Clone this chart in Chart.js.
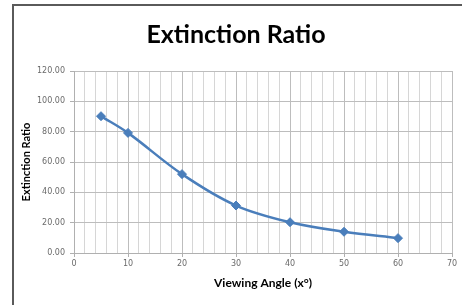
<!DOCTYPE html>
<html>
<head>
<meta charset="utf-8">
<script src="https://cdn.jsdelivr.net/npm/chart.js@4/dist/chart.umd.min.js"></script>
<style>
  html, body { margin: 0; padding: 0; background: #ffffff; overflow: hidden; }
  #wrap { position: relative; width: 462px; height: 305px; overflow: hidden; background: #ffffff; }
  canvas { display: block; position: absolute; left: 0; top: 0; }
  #frameL { position: absolute; left: 12px; top: 4px; width: 2px; height: 301px; background: #5a5a5a; }
  #frameT { position: absolute; left: 12px; top: 4px; width: 450px; height: 2px; background: #5a5a5a; }
</style>
</head>
<body>
<div id="wrap"><canvas id="c" width="462" height="305"></canvas><div id="frameL"></div><div id="frameT"></div></div>
<script>
const chartTitle = "Extinction Ratio";
const xAxisTitle = "Viewing Angle (x°)";
const yAxisTitle = "Extinction Ratio";
const angles = [5, 10, 20, 30, 40, 50, 60];
const ratios = [90.2, 79.2, 52.0, 31.3, 20.3, 14.0, 9.8];
const xMin = 0, xMax = 70, xStep = 2, xLabelEvery = 10;
const yMin = 0, yMax = 120, yStep = 20;

const labelFont = { family: "'DejaVu Sans', sans-serif", size: 8 };
const titleFamily = "Lato, 'Open Sans', sans-serif";

new Chart(document.getElementById('c'), {
  type: 'line',
  data: {
    datasets: [{
      data: angles.map((a, i) => ({ x: a, y: ratios[i] })),
      borderColor: '#4a7ebb',
      backgroundColor: '#4a7ebb',
      borderWidth: 2.5,
      pointStyle: 'rectRot',
      pointRadius: 4.5,
      pointHoverRadius: 4.5,
      pointBorderWidth: 1,
      tension: 0.35,
      fill: false
    }]
  },
  options: {
    responsive: false,
    animation: false,
    devicePixelRatio: 1,
    layout: { padding: { top: 0, right: 10, bottom: 0, left: 20 } },
    plugins: {
      legend: { display: false },
      tooltip: { enabled: false },
      title: {
        display: true,
        text: chartTitle,
        color: '#000000',
        font: { family: titleFamily, size: 25, weight: 'bold' },
        padding: { top: 20, bottom: 21 }
      }
    },
    scales: {
      x: {
        type: 'linear',
        min: xMin, max: xMax,
        afterFit(s) { s.height = 52; },
        border: { color: '#b0b0b0', width: 1 },
        grid: {
          color: (c) => (c.tick && c.tick.value % xLabelEvery === 0) ? '#bdbdbd' : '#d6d6d6',
          tickColor: (c) => (c.tick && c.tick.value % xLabelEvery === 0) ? '#b0b0b0' : 'rgba(0,0,0,0)',
          tickLength: 4,
          lineWidth: 1
        },
        ticks: {
          stepSize: xStep,
          autoSkip: false,
          maxRotation: 0,
          padding: 2,
          color: '#6a6a6a',
          font: labelFont,
          callback: (v) => (v % xLabelEvery === 0 ? String(v) : '')
        },
        title: {
          display: true,
          text: xAxisTitle,
          color: '#000000',
          font: { family: titleFamily, size: 12, weight: 'bold' },
          padding: { top: 0, bottom: 15 }
        }
      },
      y: {
        type: 'linear',
        min: yMin, max: yMax,
        afterFit(s) { s.width = 54; },
        border: { color: '#b0b0b0', width: 1 },
        grid: {
          color: '#bdbdbd',
          tickColor: '#b0b0b0',
          tickLength: 4,
          lineWidth: 1
        },
        ticks: {
          stepSize: yStep,
          padding: 5,
          color: '#6a6a6a',
          font: labelFont,
          callback: (v) => Number(v).toFixed(2)
        },
        title: {
          display: true,
          text: yAxisTitle,
          color: '#000000',
          font: { family: titleFamily, size: 11, weight: 'bold' },
          padding: { top: 0, bottom: 0 }
        }
      }
    }
  }
});
</script>
</body>
</html>
